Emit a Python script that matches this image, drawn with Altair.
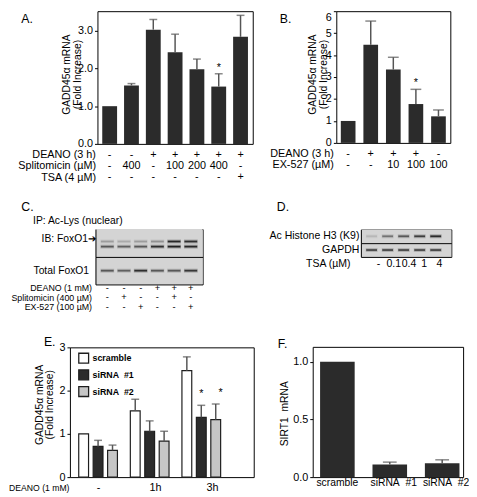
import altair as alt
import pandas as pd

W, H = 469, 489
FONT = "Liberation Sans"
DARK = "#2b2b2b"
ERRC = "#555555"
BLOTBG = "#d4d4d4"
BAND = "#1a1a1a"

# ---------------- data ----------------
# Panel A
a_cond = ["1", "2", "3", "4", "5", "6", "7"]
a_mean = [1.00, 1.55, 3.03, 2.43, 1.98, 1.52, 2.84]
a_upper = [1.00, 1.60, 3.30, 2.91, 2.25, 1.86, 3.41]
a_sig = [False, False, False, False, False, True, False]
a_rows = ["DEANO (3 h)", "Splitomicin (\u00b5M)", "TSA (4 \u00b5M)"]
a_deano = ["-", "-", "+", "+", "+", "+", "+"]
a_splito = ["-", "400", "-", "100", "200", "400", "-"]
a_tsa = ["-", "-", "-", "-", "-", "-", "+"]

# Panel B
b_cond = ["1", "2", "3", "4", "5"]
b_mean = [1.00, 4.47, 3.34, 1.77, 1.21]
b_upper = [1.00, 5.55, 3.90, 2.44, 1.50]
b_sig = [False, False, False, True, False]
b_rows = ["DEANO (3 h)", "EX-527 (\u00b5M)"]
b_deano = ["-", "+", "+", "+", "-"]
b_ex = ["-", "-", "10", "100", "100"]

# Panel C (blot)
c_lanes = ["1", "2", "3", "4", "5", "6"]
c_pieces = ["IB: FoxO1\u2794", "Total FoxO1"]
c_ac_upper = [0.25, 0.18, 0.25, 0.3, 0.9, 0.85]
c_ac_lower = [0.6, 0.55, 0.6, 0.85, 0.95, 0.9]
c_total = [0.6, 0.55, 0.85, 0.6, 0.6, 0.8]
c_mob = {"upper": 0.776, "lower": 0.684, "total": 0.249}
c_rows = ["DEANO (1 mM)", "Splitomicin (400 \u00b5M)", "EX-527 (100 \u00b5M)"]
c_deano = ["-", "-", "-", "+", "+", "+"]
c_splito = ["-", "+", "-", "-", "+", "-"]
c_ex = ["-", "-", "+", "-", "-", "+"]

# Panel D (blot)
d_lanes = ["1", "2", "3", "4", "5"]
d_pieces = ["Ac Histone H3 (K9)", "GAPDH"]
d_ach3 = [0.12, 0.45, 0.6, 0.75, 0.88]
d_gapdh = [0.7, 0.7, 0.7, 0.7, 0.72]
d_mob = {"ach3": 0.75, "gapdh": 0.25}
d_row = "TSA (\u00b5M)"
d_tsa = ["-", "0.1", "0.4", "1", "4"]

# Panel E
e_groups = ["-", "1h", "3h"]
e_series = ["scramble", "siRNA\u00a0 #1", "siRNA\u00a0 #2"]
e_mean = [[1.00, 1.53, 2.46], [0.71, 1.06, 1.38], [0.62, 0.83, 1.33]]
e_upper = [[1.00, 1.80, 2.78], [0.85, 1.30, 1.66], [0.74, 1.06, 1.69]]
e_sig = [[False, False, False], [False, False, True], [False, False, True]]
e_row = "DEANO (1 mM)"

# Panel F
f_cats = ["scramble", "siRNA\u00a0 #1", "siRNA\u00a0 #2"]
f_mean = [1.00, 0.11, 0.12]
f_upper = [1.00, 0.13, 0.15]


# ---------------- helpers ----------------
def ax(orient, pos, **kw):
    """Axis whose line sits at screen coordinate pos."""
    if orient in ("left", "top"):
        off = 8 - pos
    elif orient == "right":
        off = (pos - 8) - W
    else:
        off = (pos - 8) - H
    d = dict(orient=orient, offset=off, grid=False, labels=False, ticks=False,
             domain=True, domainColor="black", domainWidth=1, title=None)
    d.update(kw)
    return alt.Axis(**d)


def band(domain, lo, hi, **kw):
    return alt.Scale(type="band", domain=domain, range=[lo - 8, hi - 8], **kw)


def point(domain, lo, hi):
    return alt.Scale(type="point", domain=domain, range=[lo - 8, hi - 8], padding=0)


def lin(domain, bottom, top):
    return alt.Scale(domain=domain, range=[bottom - 8, top - 8], nice=False, zero=False)


def table_df(cols, rows, vals):
    recs = []
    for r, v in zip(rows, vals):
        for c, t in zip(cols, v):
            recs.append({"col": c, "row": r, "label": t})
    return pd.DataFrame(recs)


def letter_axis(orient, pos, letter, lX, lY):
    return ax(orient, pos, title=letter, titleX=lX - 8, titleY=lY - pos, titleAngle=0,
              titleAlign="left", titleBaseline="top", titleFontSize=12.5)


def bar_panel(cond, mean, upper, sig, xl, xr, yb, yt, ydom, pin, pout, cap,
              yvals, yfmt, ytitle, tX, tY, letter, lX, lY, align=0.5,
              xlabels=False, tsize=11, top_label=None):
    df = pd.DataFrame({"cond": cond, "mean": mean, "upper": upper, "sig": sig})
    xs = lambda: band(cond, xl, xr, paddingInner=pin, paddingOuter=pout, align=align)
    ys = lambda: lin(ydom, yb, yt)
    xaxis = ax("bottom", yb)
    if xlabels:
        xaxis = ax("bottom", yb, labels=True, labelPadding=6, labelFontSize=10.5,
                   labelAngle=0, labelBaseline="middle", labelAlign="center",
                   labelOffset={"condition": {"test": f"datum.value == '{cond[0]}'",
                                              "value": 0},
                                "value": 4})
    extra = {}
    if top_label is not None:
        extra["labelBaseline"] = {"condition": {"test": f"datum.value == {top_label}",
                                                "value": "top"},
                                  "value": "middle"}
    bars = alt.Chart(df).mark_bar(color=DARK).encode(
        x=alt.X("cond:N", scale=xs(), axis=xaxis),
        y=alt.Y("mean:Q", scale=ys(), axis=ax(
            "left", xl, labels=True, ticks=True, tickSize=3, tickColor="black",
            tickWidth=1, values=yvals, format=yfmt, labelPadding=2,
            labelFontSize=tsize, title=ytitle, titleX=tX - xl, titleY=tY - 8,
            titleBaseline="middle", titleFontSize=10.5, titleLineHeight=11, **extra)),
    )
    edf = df[df["upper"] > df["mean"]]
    rule = alt.Chart(edf).mark_rule(color=ERRC, strokeWidth=1.5).encode(
        x=alt.X("cond:N", scale=xs(), axis=letter_axis("top", yt, letter, lX, lY)),
        y=alt.Y("mean:Q", scale=ys(), axis=ax("right", xr)),
        y2="upper:Q",
    )
    caps = alt.Chart(edf).mark_tick(color=ERRC, thickness=1.5, size=cap).encode(
        x=alt.X("cond:N", scale=xs(), axis=None),
        y=alt.Y("upper:Q", scale=ys(), axis=None),
    )
    stars = alt.Chart(df[df["sig"]]).mark_text(
        text="*", fontSize=11, baseline="bottom", dy=-1, color="black").encode(
        x=alt.X("cond:N", scale=xs(), axis=None),
        y=alt.Y("upper:Q", scale=ys(), axis=None),
    )
    return [bars, rule, caps, stars], xs


layers = []

# ---------------- Panel A ----------------
lA, xsA = bar_panel(a_cond, a_mean, a_upper, a_sig, 99, 257, 142, 7, [0, 3.52],
                    0.32, 0.22, 8, [0, 1, 2, 3], ".1f",
                    ["GADD45\u03b1 mRNA", "(Fold Increase)"], 67.5, 71,
                    "A.", 21, 8.5)
layers += lA
tA = table_df(a_cond, a_rows, [a_deano, a_splito, a_tsa])
layers.append(alt.Chart(tA).mark_text(fontSize=11, color="black").encode(
    x=alt.X("col:N", scale=xsA(), axis=None),
    y=alt.Y("row:N", scale=point(a_rows, 153, 176),
            axis=ax("left", 99, domain=False, labels=True, labelPadding=2,
                    labelFontSize=11)),
    text="label:N"))

# ---------------- Panel B ----------------
lB, xsB = bar_panel(b_cond, b_mean, b_upper, b_sig, 342, 458, 141, 7, [0, 6],
                    0.35, 0.2, 11, [0, 1, 2, 3, 4, 5, 6], "d",
                    ["GADD45\u03b1 mRNA", "(Fold Increase)"], 318, 71,
                    "B.", 284, 8.5, top_label=6)
layers += lB
tB = table_df(b_cond, b_rows, [b_deano, b_ex])
layers.append(alt.Chart(tB).mark_text(fontSize=11, color="black").encode(
    x=alt.X("col:N", scale=xsB(), axis=None),
    y=alt.Y("row:N", scale=point(b_rows, 152, 163.5),
            axis=ax("left", 342, domain=False, labels=True, labelPadding=3,
                    labelFontSize=11)),
    text="label:N"))


# ---------------- blots ----------------
def blot(lanes, pieces, piece_edges, xl, xr, lane_pin, lane_pout, lane_align,
         bands_df, tick_len, letter, lX, lY, label_pads, label_size,
         label_offsets, extra_title=None):
    out = []
    for i, p in enumerate(pieces):
        top, bot = piece_edges[i], piece_edges[i + 1]
        kw = {}
        if extra_title is not None and i == 0:
            kw = dict(title=extra_title[0], titleX=extra_title[1] - 8,
                      titleY=extra_title[2] - bot, titleAlign="left",
                      titleBaseline="middle", titleFontSize=10.5, titleAngle=0)
        out.append(alt.Chart(pd.DataFrame({"blot": ["m"], "piece": [p]})).mark_rect(
            color=BLOTBG).encode(
            x=alt.X("blot:N", scale=band(["m"], xl, xr, paddingInner=0, paddingOuter=0),
                    axis=ax("bottom", bot, **kw)),
            y=alt.Y("piece:N", scale=band([p], top, bot, paddingInner=0, paddingOuter=0),
                    axis=ax("left", xl, labels=True, labelPadding=label_pads[i],
                            labelFontSize=label_size, labelOffset=label_offsets[i])),
        ))
    ls = lambda: band(lanes, xl, xr, paddingInner=lane_pin, paddingOuter=lane_pout,
                      align=lane_align)
    ys = lambda: lin([0, 1], piece_edges[-1], piece_edges[0])
    out.append(alt.Chart(bands_df).mark_tick(color=BAND, thickness=4, size=tick_len + 1).encode(
        x=alt.X("lane:N", scale=ls(), axis=letter_axis("top", piece_edges[0], letter, lX, lY)),
        y=alt.Y("mob:Q", scale=ys(), axis=ax("right", xr)),
        opacity=alt.Opacity("halo:Q", scale=None),
    ))
    out.append(alt.Chart(bands_df).mark_tick(color=BAND, thickness=1.8, size=tick_len).encode(
        x=alt.X("lane:N", scale=ls(), axis=None),
        y=alt.Y("mob:Q", scale=ys(), axis=None),
        opacity=alt.Opacity("intensity:Q", scale=None),
    ))
    return out, ls


recs = []
for name, vals in (("upper", c_ac_upper), ("lower", c_ac_lower), ("total", c_total)):
    for ln, v in zip(c_lanes, vals):
        recs.append({"lane": ln, "mob": c_mob[name], "intensity": v, "halo": v * 0.28})
bandsC = pd.DataFrame(recs)
lC, lsC = blot(c_lanes, c_pieces, [228.7, 257, 285], 97, 206, 0.3, 0.356, 0.5,
               bandsC, 13, "C.", 21, 200, [0, 7], 10.5, [-4, 0],
               extra_title=("IP: Ac-Lys (nuclear)", 33, 220))
layers += lC
tC = table_df(c_lanes, c_rows, [c_deano, c_splito, c_ex])
layers.append(alt.Chart(tC).mark_text(fontSize=9.5, color="black").encode(
    x=alt.X("col:N", scale=lsC(), axis=None),
    y=alt.Y("row:N", scale=point(c_rows, 288.5, 308),
            axis=ax("left", 97, domain=False, labels=True, labelPadding=4,
                    labelFontSize=9)),
    text="label:N"))

recs = []
for name, vals in (("ach3", d_ach3), ("gapdh", d_gapdh)):
    for ln, v in zip(d_lanes, vals):
        recs.append({"lane": ln, "mob": d_mob[name], "intensity": v, "halo": v * 0.28})
bandsD = pd.DataFrame(recs)
lD, lsD = blot(d_lanes, d_pieces, [229, 243, 257], 367, 459, 0.3, 0.472, 0.34,
               bandsD, 11, "D.", 281, 200, [2, 2], 10.7, [0, 0])
layers += lD
tD = table_df(d_lanes, [d_row], [d_tsa])
layers.append(alt.Chart(tD).mark_text(fontSize=10.7, color="black").encode(
    x=alt.X("col:N", scale=point(d_lanes, 385, 447), axis=None),
    y=alt.Y("row:N", scale=point([d_row], 264, 264),
            axis=ax("left", 367, domain=False, labels=True, labelPadding=11,
                    labelFontSize=10.7)),
    text="label:N"))

# ---------------- Panel E ----------------
recs = []
for si, s in enumerate(e_series):
    for gi, g in enumerate(e_groups):
        recs.append({"grp": g, "series": s, "mean": e_mean[si][gi],
                     "upper": e_upper[si][gi], "sig": e_sig[si][gi]})
dfE = pd.DataFrame(recs)
xsE = lambda: band(e_groups, 71, 258, paddingInner=0.25, paddingOuter=0.406, align=0.21)
xoE = lambda: alt.Scale(domain=e_series, paddingInner=0.32, paddingOuter=0)
ysE = lambda: lin([0, 3], 481, 349)
layers.append(alt.Chart(dfE).mark_bar(stroke="#1e1e1e", strokeWidth=1.2).encode(
    x=alt.X("grp:N", scale=xsE(), axis=ax("bottom", 481)),
    xOffset=alt.XOffset("series:N", scale=xoE()),
    y=alt.Y("mean:Q", scale=ysE(), axis=ax(
        "left", 71, labels=True, ticks=True, tickSize=3, tickColor="black",
        values=[0, 1, 2, 3], format="d", labelPadding=2, labelFontSize=11,
        title=["GADD45\u03b1 mRNA", "(Fold Increase)"], titleX=40 - 71, titleY=407 - 8,
        titleBaseline="middle", titleFontSize=10.5, titleLineHeight=10)),
    fill=alt.Fill("series:N", scale=alt.Scale(domain=e_series,
                                              range=["white", DARK, "#c6c6c6"]),
                  legend=alt.Legend(orient="none", legendX=79 - 8, legendY=354 - 8,
                                    title=None, symbolType="square", symbolSize=100,
                                    symbolStrokeColor="#1e1e1e", symbolStrokeWidth=1.3,
                                    labelFontSize=9, labelFontWeight="bold",
                                    labelFont=FONT, rowPadding=1, labelOffset=3,
                                    padding=0)),
))
eE = dfE[dfE["upper"] > dfE["mean"]]
layers.append(alt.Chart(eE).mark_rule(color=ERRC, strokeWidth=1.5).encode(
    x=alt.X("grp:N", scale=xsE(), axis=letter_axis("top", 349, "E.", 44, 337)),
    xOffset=alt.XOffset("series:N", scale=xoE()),
    y=alt.Y("mean:Q", scale=ysE(), axis=ax("right", 258)),
    y2="upper:Q"))
layers.append(alt.Chart(eE).mark_tick(color=ERRC, thickness=1.5, size=8).encode(
    x=alt.X("grp:N", scale=xsE(), axis=None),
    xOffset=alt.XOffset("series:N", scale=xoE()),
    y=alt.Y("upper:Q", scale=ysE(), axis=None)))
layers.append(alt.Chart(dfE[dfE["sig"]]).mark_text(
    text="*", fontSize=11, baseline="bottom", dy=-6, color="black").encode(
    x=alt.X("grp:N", scale=xsE(), axis=None),
    xOffset=alt.XOffset("series:N", scale=xoE()),
    y=alt.Y("upper:Q", scale=ysE(), axis=None)))
tE = table_df(e_groups, [e_row], [e_groups])
layers.append(alt.Chart(tE).mark_text(fontSize=11, color="black").encode(
    x=alt.X("col:N", scale=point(e_groups, 100, 216), axis=None),
    y=alt.Y("row:N", scale=point([e_row], 492, 492),
            axis=ax("left", 71, domain=False, labels=True, labelPadding=1,
                    labelFontSize=8.8)),
    text="label:N"))

# ---------------- Panel F ----------------
lF, xsF = bar_panel(f_cats, f_mean, f_upper, [False] * 3, 318, 471, 481, 348.5,
                    [0, 1.13], 0.34, 0.105, 14, [0, 0.5, 1.0], ".1f",
                    "SIRT1\u00a0 mRNA", 289, 416, "F.", 282, 339, align=0.67,
                    xlabels=True)
layers += lF

chart = alt.layer(*layers).resolve_scale(
    x="independent", y="independent", xOffset="independent", opacity="independent"
).resolve_axis(x="independent", y="independent").properties(
    width=W, height=H, autosize=alt.AutoSizeParams(type="none"), padding=0
).configure(font=FONT).configure_view(stroke=None).configure_axis(
    labelFont=FONT, titleFont=FONT, labelColor="black", titleColor="black",
    titleFontWeight="normal", tickColor="black", domainColor="black",
    labelOverlap=False
).configure_text(font=FONT, color="black")

chart.save("out.html", embed_options={"renderer": "svg", "actions": False})
